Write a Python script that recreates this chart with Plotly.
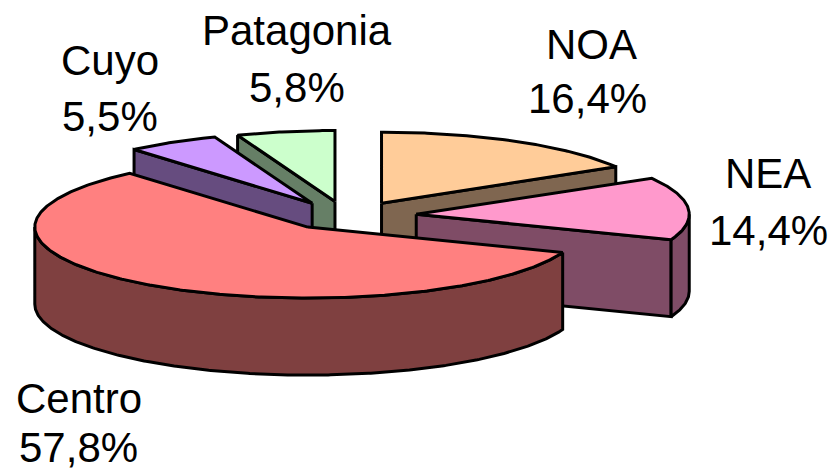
import numpy as np
import plotly.graph_objects as go

categories = ["NOA", "NEA", "Centro", "Cuyo", "Patagonia"]
values = [16.4, 14.4, 57.8, 5.5, 5.8]
value_labels = ["16,4%", "14,4%", "57,8%", "5,5%", "5,8%"]
top_colors = ["#FFCC99", "#FF99CC", "#FF8080", "#CC99FF", "#CCFFCC"]
side_colors = ["#7F6650", "#7F4C66", "#7F4040", "#664C7F", "#667F66"]
name_xy = [(591, 44), (768, 173), (79, 398), (110, 60), (297, 30)]
value_xy = [(587, 98), (768, 230), (78, 447), (110, 116), (297, 87)]

W, H = 831, 472
CX, CY = 347.5, 215.5
RX, RY = 273, 71
EX, EY = 69, 14.2
DEPTH = 77
LW = 3

total = sum(values)
edges = np.cumsum([0] + values) / total * 360.0


def pt(cx, cy, deg):
    r = np.radians(deg)
    return cx + RX * np.sin(r), cy - RY * np.cos(r)


def arc(cx, cy, a, b):
    t = np.linspace(a, b, max(int(abs(b - a)) * 2, 2))
    return pt(cx, cy, t)


fig = go.Figure()


def poly(x, y, color):
    x = list(x) + [x[0]]
    y = list(y) + [y[0]]
    fig.add_trace(go.Scatter(x=x, y=y, mode="lines", fill="toself", fillcolor=color,
                             line=dict(color="black", width=LW), hoverinfo="skip",
                             showlegend=False))


order = [4, 3, 0, 1, 2]
for i in order:
    a, b = edges[i], edges[i + 1]
    mid = np.radians((a + b) / 2)
    cx = CX + EX * np.sin(mid)
    cy = CY - EY * np.cos(mid)
    # cut faces, visible when the outward normal points at the viewer
    for ang, normal in ((a, a - 90), (b, b + 90)):
        if np.cos(np.radians(normal)) < -1e-6:
            ox, oy = pt(cx, cy, ang)
            poly([cx, ox, ox, cx], [cy, oy, oy + DEPTH, cy + DEPTH], side_colors[i])
    # rim, front half only
    lo, hi = max(a, 90), min(b, 270)
    if hi > lo:
        rx, ry = arc(cx, cy, lo, hi)
        poly(list(rx) + list(rx[::-1]), list(ry) + list(ry[::-1] + DEPTH), side_colors[i])
    # top
    tx, ty = arc(cx, cy, a, b)
    poly([cx] + list(tx), [cy] + list(ty), top_colors[i])

for texts, places in ((categories, name_xy), (value_labels, value_xy)):
    for txt, (lx, ly) in zip(texts, places):
        fig.add_annotation(x=lx, y=ly, text=txt, showarrow=False,
                           font=dict(family="Liberation Sans", size=42, color="black"),
                           align="center", xanchor="center", yanchor="middle")

fig.update_layout(width=W, height=H, margin=dict(l=0, r=0, t=0, b=0),
                  paper_bgcolor="white", plot_bgcolor="white", showlegend=False,
                  xaxis=dict(range=[0, W], visible=False, fixedrange=True),
                  yaxis=dict(range=[H, 0], visible=False, fixedrange=True))
fig.write_html("out.html", config={"displayModeBar": False},
               post_script="document.body.style.margin='0';document.documentElement.style.overflow='hidden';")
